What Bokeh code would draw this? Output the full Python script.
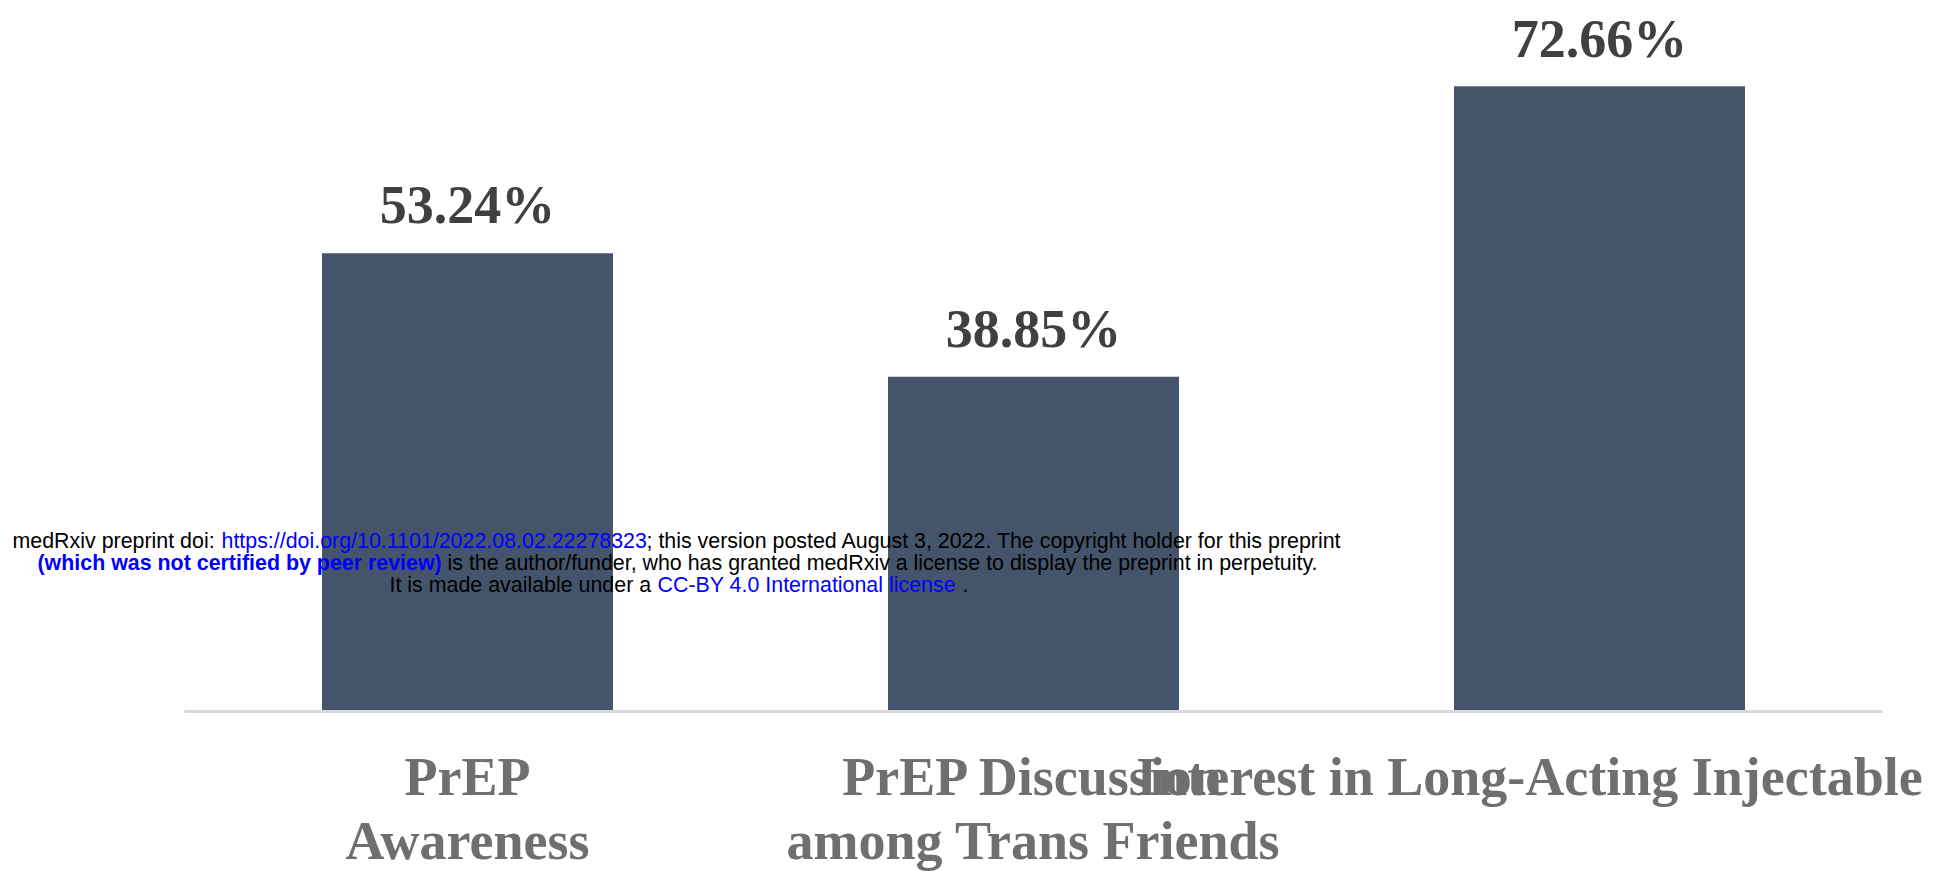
from bokeh.plotting import figure
from bokeh.models import ColumnDataSource, Range1d
from bokeh.embed import file_html
from bokeh.resources import INLINE
from bokeh.core.properties import value

# ---- data ----
categories = ["PrEP\nAwareness",
              "PrEP Discussion\namong Trans Friends",
              "Interest in Long-Acting Injectable"]
percentages = [53.24, 38.85, 72.66]
value_labels = [f"{v:.2f}%" for v in percentages]

# watermark texts (line, segment)
wm_line1 = ["medRxiv preprint doi:",
            "https://doi.org/10.1101/2022.08.02.22278323",
            "; this version posted August 3, 2022. The copyright holder for this preprint"]
wm_line2 = ["(which was not certified by peer review)",
            "is the author/funder, who has granted medRxiv a license to display the preprint in perpetuity."]
wm_line3 = ["It is made available under a",
            "CC-BY 4.0 International license",
            "."]

# ---- layout (canvas pixels) ----
W, H = 1939, 871
PX_PER_CAT = 566.0
PX_PER_PCT = 8.59
FIRST_CENTER_PX = 467.0
ZERO_PX = 710.0
SERIF_PX = 54.0
SANS_PX = 21.4
BASE_FIX = 0.42  # empirical shift of alphabetic baseline (fraction of font size)

x_start = -FIRST_CENTER_PX / PX_PER_CAT
x_end = (W - FIRST_CENTER_PX) / PX_PER_CAT
y_end = ZERO_PX / PX_PER_PCT
y_start = -(H - ZERO_PX) / PX_PER_PCT


def dx(px):
    return x_start + px / PX_PER_CAT


def dy(py):
    return y_end - py / PX_PER_PCT


p = figure(width=W, height=H, output_backend="svg", toolbar_location=None,
           x_range=Range1d(x_start, x_end), y_range=Range1d(y_start, y_end),
           x_axis_type=None, y_axis_type=None, min_border=0,
           background_fill_color="white", border_fill_color="white")
p.outline_line_color = None
p.grid.visible = False

n = len(categories)
idx = list(range(n))
serif_fix = BASE_FIX * SERIF_PX / PX_PER_PCT
src = ColumnDataSource(dict(
    x=idx, top=percentages, label=value_labels,
    ly=[v + 25.0 / PX_PER_PCT + serif_fix for v in percentages],
))

p.vbar(x="x", top="top", bottom=0, width=291.0 / PX_PER_CAT, source=src,
       fill_color="#44546a", line_color=None)

# baseline
p.segment(x0=[-0.5], x1=[n - 0.5], y0=[-1.0 / PX_PER_PCT], y1=[-1.0 / PX_PER_PCT],
          line_color="#d9d9d9", line_width=3)

# value labels
p.text(x="x", y="ly", text="label", source=src, text_align="center",
       text_baseline="alphabetic", text_font=value("Liberation Serif"),
       text_font_style="bold", text_font_size=f"{SERIF_PX}px", text_color="#404040")

# category labels
lines1 = [c.split("\n")[0] for c in categories]
lines2 = [c.split("\n")[1] if "\n" in c else "" for c in categories]
label_dx = [0, 0, -70]
for lines, off in ((lines1, 89.0), (lines2, 153.0)):
    p.text(x=idx, y=[-off / PX_PER_PCT + serif_fix] * n, text=lines, x_offset=label_dx,
           text_align="center", text_baseline="alphabetic",
           text_font=value("Liberation Serif"), text_font_style="bold",
           text_font_size=f"{SERIF_PX}px", text_color="#6f6f6f")

# watermark
BLACK, BLUE = "#000000", "#0000ff"
wm = [
    (wm_line1, [12, 221, 646], [BLACK, BLUE, BLACK], ["normal"] * 3, 549),
    (wm_line2, [37, 447], [BLUE, BLACK], ["bold", "normal"], 571),
    (wm_line3, [389, 657, 962], [BLACK, BLUE, BLACK], ["normal"] * 3, 593),
]
sans_fix = BASE_FIX * SANS_PX
for texts, xs, cols, styles, base in wm:
    for t, xpx, c, s in zip(texts, xs, cols, styles):
        p.text(x=[dx(xpx)], y=[dy(base - sans_fix)], text=[t], text_align="left",
               text_baseline="alphabetic", text_font=value("Liberation Sans"),
               text_font_style=s, text_font_size=f"{SANS_PX}px", text_color=c)

open("out.html", "w").write(file_html(p, INLINE))
